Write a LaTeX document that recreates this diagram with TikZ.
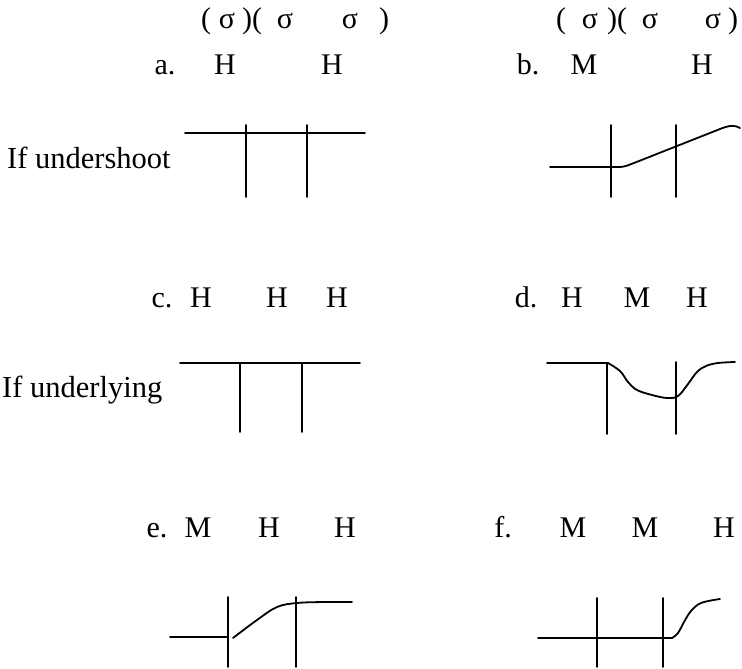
\documentclass[tikz,border=0pt]{standalone}
\usepackage{fontspec}
\setmainfont{Liberation Serif}
\begin{document}
\begin{tikzpicture}[x=1pt,y=-1pt,
  lbl/.style={anchor=base,inner sep=0pt,font=\fontsize{30}{35}\selectfont},
  side/.style={anchor=base west,inner sep=0pt,font=\fontsize{30.5}{36}\selectfont},
  ln/.style={line width=1.8pt,line cap=round,line join=round}]
\useasboundingbox (0,0) rectangle (742,669);
% row 1: syllable brackets
\foreach \x/\t [count=\i] in {206/(,227/σ,252/)(,285/σ,350/σ,384/)}
  \node[lbl] (sl\i) at (\x,29) {\t};
\foreach \x/\t [count=\i] in {561/(,590/σ,617/)(,650/σ,713/σ,733/)}
  \node[lbl] (sr\i) at (\x,29) {\t};
% tone labels
\node[lbl] (la) at (165,75) {a.};
\node[lbl] (a1) at (225,75) {H};
\node[lbl] (a2) at (332,75) {H};
\node[lbl] (lb) at (528,75) {b.};
\node[lbl] (b1) at (584,75) {M};
\node[lbl] (b2) at (702,75) {H};
\node[lbl] (lc) at (162,307) {c.};
\node[lbl] (c1) at (201,307) {H};
\node[lbl] (c2) at (277,307) {H};
\node[lbl] (c3) at (337,307) {H};
\node[lbl] (ld) at (526,307) {d.};
\node[lbl] (d1) at (572,307) {H};
\node[lbl] (d2) at (637,307) {M};
\node[lbl] (d3) at (697,307) {H};
\node[lbl] (le) at (157,537) {e.};
\node[lbl] (e1) at (198,537) {M};
\node[lbl] (e2) at (269,537) {H};
\node[lbl] (e3) at (345,537) {H};
\node[lbl] (lf) at (503,537) {f.};
\node[lbl] (f1) at (573,537) {M};
\node[lbl] (f2) at (645,537) {M};
\node[lbl] (f3) at (724,537) {H};
% side labels
\node[side] (us) at (7,168) {If undershoot};
\node[side] (ul) at (2,397) {If underlying};
% diagram a
\draw[ln] (185,133) -- (365,133);
\draw[ln] (246,125) -- (246,197);
\draw[ln] (307,125) -- (307,197);
% diagram b
\draw[ln] (611,125) -- (611,197);
\draw[ln] (676,125) -- (676,197);
\draw[ln] (550,167) -- (618,167) .. controls (626,167) and (628,165) .. (634,163)
  -- (720,129) .. controls (730,125) and (735,125) .. (740,128);
% diagram c
\draw[ln] (180,363) -- (360,363);
\draw[ln] (240,363) -- (240,432);
\draw[ln] (302,363) -- (302,432);
% diagram d
\draw[ln] (607,363) -- (607,434);
\draw[ln] (676,362) -- (676,434);
\draw[ln] (547,363) -- (608,363) plot[smooth,tension=0.6] coordinates
  {(608,363) (620,371) (628,382) (637,390) (652,395) (667,398) (678,396) (688,384) (697,372) (706,366) (718,363) (735,362)};
% diagram e
\draw[ln] (228,597) -- (228,667);
\draw[ln] (296,597) -- (296,667);
\draw[ln] (170,637) -- (228,637);
\draw[ln] plot[smooth,tension=0.6] coordinates
  {(233,638) (257,620) (277,607) (297,603) (325,602) (352,602)};
% diagram f
\draw[ln] (597,598) -- (597,667);
\draw[ln] (663,598) -- (663,667);
\draw[ln] (538,638) -- (672,638) plot[smooth,tension=0.6] coordinates
  {(672,638) (678,633) (684,622) (691,611) (701,603) (720,599)};
\end{tikzpicture}
\end{document}
